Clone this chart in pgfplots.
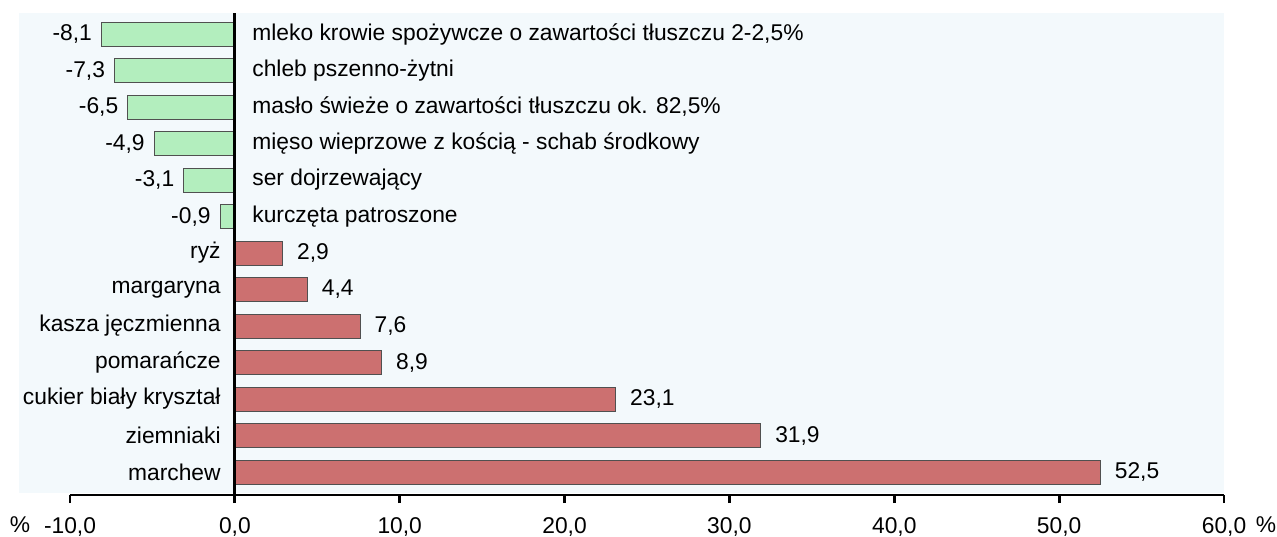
\documentclass[border=0pt]{standalone}
\usepackage{pgfplots}
\pgfplotsset{compat=1.18}
\usepackage{pgfplotstable}
\usepackage{fontspec}
\setmainfont{Liberation Sans}
\definecolor{bgc}{RGB}{243,249,252}
\definecolor{gfill}{RGB}{179,238,190}
\definecolor{rfill}{RGB}{204,112,112}
\definecolor{bord}{RGB}{80,80,80}

% y position (0 = bottom), value
\pgfplotstableread{
y v
12 -8.1
11 -7.3
10 -6.5
9 -4.9
8 -3.1
7 -0.9
}\negtab
\pgfplotstableread{
y v
6 2.9
5 4.4
4 7.6
3 8.9
2 23.1
1 31.9
0 52.5
}\postab

\begin{document}
\begin{tikzpicture}[font=\fontsize{11.4}{13.6}\selectfont]
\path[use as bounding box] (-35pt,-20.5pt) rectangle (603.5pt,247.5pt);
\begin{axis}[
  at={(0,0)}, anchor=south west,
  scale only axis, width=577pt, height=241pt,
  xmin=-10, xmax=60, ymin=-0.63, ymax=12.577,
  axis on top,
  axis x line=bottom, axis y line=left,
  x axis line style={-, line width=1.4pt},
  y axis line style={draw=none},
  xtick={-10,0,...,60}, tick align=outside,
  major x tick style={black, line width=1.4pt},
  major tick length=4pt,
  major y tick style={draw=none},
  xticklabel style={yshift=-4pt, /pgf/number format/.cd, fixed, fixed zerofill, precision=1, use comma, 1000 sep={}, assume math mode=true},
  ytick={0,...,6},
  yticklabels={marchew, ziemniaki, cukier biały kryształ, pomarańcze, kasza jęczmienna, margaryna, ryż},
  yticklabel style={anchor=east, inner sep=0pt, xshift=79.5pt},
  extra y ticks={7,...,12},
  extra y tick labels={kurczęta patroszone, ser dojrzewający, mięso wieprzowe z kością - schab środkowy, {masło świeże o zawartości tłuszczu ok. 82,5\%}, chleb pszenno-żytni, {mleko krowie spożywcze o zawartości tłuszczu 2-2,5\%}},
  extra y tick style={yticklabel style={anchor=west, xshift=15.5pt}, major y tick style={draw=none}},
  clip=false,
  bar width=12pt,
]
\fill[bgc] (axis cs:-13.1,-0.57) rectangle (axis cs:60,12.577);
\addplot[xbar, bar shift=0pt, fill=gfill, draw=bord, line width=0.5pt,
  point meta=x,
  nodes near coords={\pgfmathprintnumber[fixed,fixed zerofill,precision=1,use comma,assume math mode=true]{\pgfplotspointmeta}},
  nodes near coords style={anchor=east, inner sep=0pt, xshift=-4.5pt, black}]
  table[x=v,y=y]{\negtab};
\addplot[xbar, bar shift=0pt, fill=rfill, draw=bord, line width=0.5pt,
  point meta=x,
  nodes near coords={\pgfmathprintnumber[fixed,fixed zerofill,precision=1,use comma,assume math mode=true]{\pgfplotspointmeta}},
  nodes near coords style={anchor=west, inner sep=0pt, xshift=7pt, black}]
  table[x=v,y=y]{\postab};
\draw[black, line width=1.5pt] (axis cs:0,-0.63) -- (axis cs:0,12.577);
\end{axis}
\node[anchor=base, inner sep=0pt] at (-25pt,-18.75pt) {\%};
\node[anchor=base, inner sep=0pt] at (598pt,-18.75pt) {\%};
\end{tikzpicture}
\end{document}
